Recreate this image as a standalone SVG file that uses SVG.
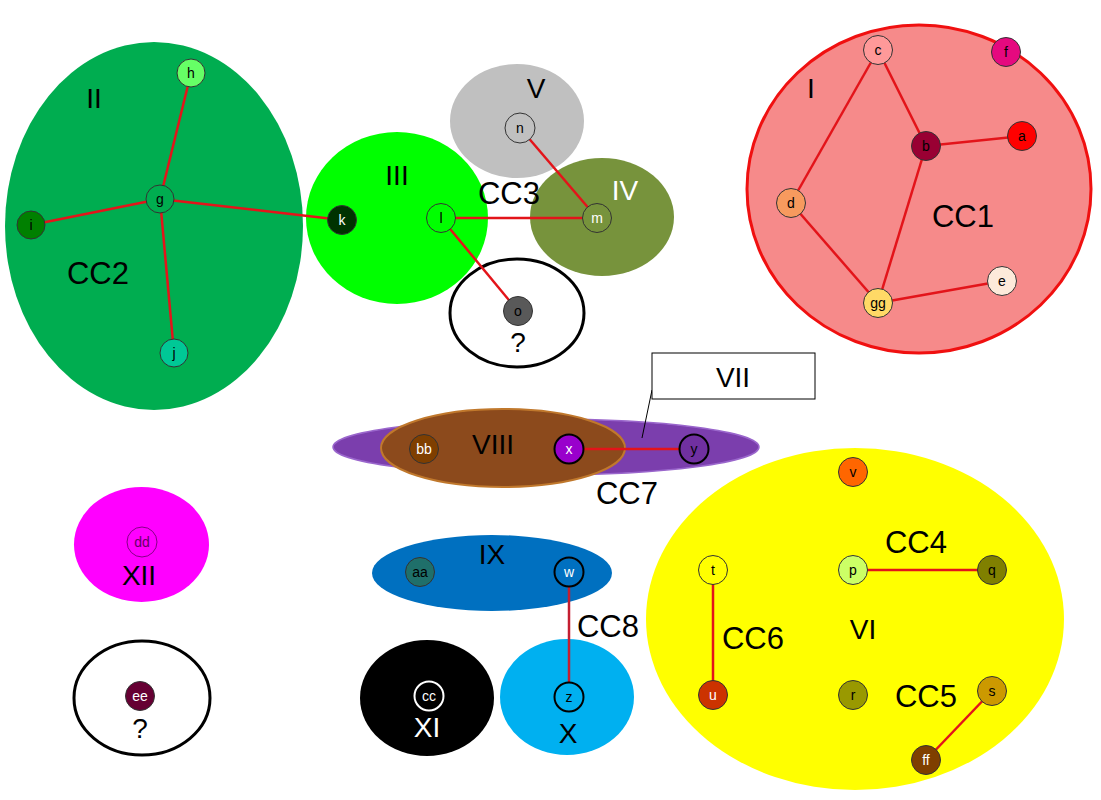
<svg xmlns="http://www.w3.org/2000/svg" width="1101" height="800" viewBox="0 0 1101 800">
<style>
.lbl{font-family:"Liberation Sans",Arial,sans-serif;font-size:28px;text-anchor:middle;fill:#000}
.cc{font-family:"Liberation Sans",Arial,sans-serif;font-size:31px;text-anchor:middle;fill:#000}
.nl{font-family:"Liberation Sans",Arial,sans-serif;font-size:14px;text-anchor:middle;fill:#000}
.w{fill:#fff}
.n{stroke:#333;stroke-width:1}
.nb{stroke:#000;stroke-width:2}
.e{stroke:#E3141A;stroke-width:2.5;fill:none}
</style>
<rect width="1101" height="800" fill="#fff"/>
<g id="groups">
  <ellipse id="grp-II" cx="154" cy="226" rx="149" ry="184" fill="#00AD50"/>
  <ellipse id="grp-III" cx="397" cy="218" rx="91" ry="86" fill="#00FF00"/>
  <ellipse id="grp-IV" cx="602" cy="217" rx="72" ry="59" fill="#77933C"/>
  <ellipse id="grp-V" cx="517" cy="121" rx="67" ry="57" fill="#C0C0C0"/>
  <ellipse id="grp-q1" cx="517" cy="313" rx="67" ry="54" fill="#fff" stroke="#000" stroke-width="3"/>
  <ellipse id="grp-I" cx="919" cy="189" rx="172" ry="164" fill="#F68A8A" stroke="#F01010" stroke-width="3"/>
  <ellipse id="grp-VII" cx="546" cy="447" rx="213" ry="28" fill="#7B3EAD" stroke="#9A66CC" stroke-width="1.5"/>
  <ellipse id="grp-VIII" cx="503" cy="448" rx="122" ry="39" fill="#8C4A1C" stroke="#C0782C" stroke-width="2"/>
  <ellipse id="grp-VI" cx="855" cy="619" rx="209" ry="171" fill="#FFFF00"/>
  <ellipse id="grp-XII" cx="141.5" cy="544.5" rx="67.5" ry="57.5" fill="#FF00FF"/>
  <ellipse id="grp-q2" cx="142" cy="698" rx="68" ry="57" fill="#fff" stroke="#000" stroke-width="3"/>
  <ellipse id="grp-IX" cx="492" cy="573" rx="120" ry="38" fill="#0070C0"/>
  <ellipse id="grp-XI" cx="427" cy="698" rx="67" ry="58" fill="#000"/>
  <ellipse id="grp-X" cx="567" cy="697" rx="67" ry="58" fill="#00B0F0"/>
</g>
<g id="group-labels">
  <text class="lbl" x="94" y="108">II</text>
  <text class="cc" x="98" y="284">CC2</text>
  <text class="lbl" x="397" y="185">III</text>
  <text class="lbl" x="536" y="98">V</text>
  <text class="cc" x="509" y="204">CC3</text>
  <text class="lbl w" x="625" y="200">IV</text>
  <text class="lbl" x="518" y="352">?</text>
  <text class="lbl" x="811" y="98">I</text>
  <text class="cc" x="963" y="227">CC1</text>
  <text class="lbl" x="493" y="454">VIII</text>
  <text class="cc" x="627" y="504">CC7</text>
  <text class="lbl" x="139" y="585">XII</text>
  <text class="lbl" x="140" y="738">?</text>
  <text class="lbl" x="492" y="564">IX</text>
  <text class="lbl w" x="427" y="737">XI</text>
  <text class="lbl" x="568" y="743">X</text>
  <text class="cc" x="608" y="637">CC8</text>
  <text class="cc" x="916" y="553">CC4</text>
  <text class="lbl" x="863" y="639">VI</text>
  <text class="cc" x="753" y="649">CC6</text>
  <text class="cc" x="926" y="707">CC5</text>
</g>
<g id="callout-VII">
  <line x1="652" y1="390" x2="642" y2="438" stroke="#000" stroke-width="1"/>
  <rect x="652" y="353" width="163" height="46" fill="#fff" stroke="#000" stroke-width="1"/>
  <text class="lbl" x="733" y="387">VII</text>
</g>
<g id="connectors">
  <line class="e" x1="191" y1="73" x2="160" y2="199"/>
  <line class="e" x1="31" y1="225" x2="160" y2="199"/>
  <line class="e" x1="174" y1="353" x2="160" y2="199"/>
  <line class="e" x1="160" y1="199" x2="342" y2="220"/>
  <line class="e" x1="520" y1="128" x2="597" y2="218"/>
  <line class="e" x1="441" y1="218" x2="597" y2="218"/>
  <line class="e" x1="441" y1="218" x2="518" y2="311"/>
  <line class="e" x1="878" y1="50" x2="926" y2="146"/>
  <line class="e" x1="878" y1="50" x2="791" y2="203"/>
  <line class="e" x1="926" y1="146" x2="1022" y2="136"/>
  <line class="e" x1="926" y1="146" x2="878" y2="303"/>
  <line class="e" x1="791" y1="203" x2="878" y2="303"/>
  <line class="e" x1="878" y1="303" x2="1002" y2="281"/>
  <line class="e" x1="569" y1="449" x2="694" y2="449"/>
  <line class="e" x1="853" y1="570" x2="992" y2="570"/>
  <line class="e" x1="713" y1="570" x2="713" y2="695"/>
  <line class="e" x1="992" y1="691" x2="926" y2="760"/>
  <line class="e" x1="569" y1="572" x2="569" y2="697" style="stroke:#C41E30"/>
</g>
<g id="node-h"><circle class="n" cx="191" cy="73" r="14" fill="#66FF66"/><text class="nl" x="191" y="78">h</text></g>
<g id="node-g"><circle class="n" cx="160" cy="199" r="14" fill="#00AD50"/><text class="nl" x="160" y="204">g</text></g>
<g id="node-i"><circle class="n" cx="31" cy="225" r="14" fill="#008000"/><text class="nl" x="31" y="230">i</text></g>
<g id="node-j"><circle class="n" cx="174" cy="353" r="14" fill="#00C896"/><text class="nl" x="174" y="358">j</text></g>
<g id="node-k"><circle class="n" cx="342" cy="220" r="14.5" fill="#003300"/><text class="nl w" x="342" y="225">k</text></g>
<g id="node-l"><circle class="n" cx="441" cy="218" r="14.5" fill="#00FF00"/><text class="nl" x="441" y="223">l</text></g>
<g id="node-n"><circle class="n" cx="520" cy="128" r="15" fill="#C0C0C0"/><text class="nl" x="520" y="133">n</text></g>
<g id="node-m"><circle class="n" cx="597" cy="218" r="14.5" fill="#77933C"/><text class="nl w" x="597" y="223">m</text></g>
<g id="node-o"><circle class="n" cx="518" cy="311" r="14.5" fill="#595959"/><text class="nl" x="518" y="316">o</text></g>
<g id="node-c"><circle class="n" cx="878" cy="50" r="14.5" fill="#FF9999"/><text class="nl" x="878" y="55">c</text></g>
<g id="node-f"><circle class="n" cx="1006" cy="52" r="14.5" fill="#E5097F"/><text class="nl" x="1006" y="57">f</text></g>
<g id="node-b"><circle class="n" cx="926" cy="146" r="14.5" fill="#990033"/><text class="nl" x="926" y="151">b</text></g>
<g id="node-a"><circle class="n" cx="1022" cy="136" r="14.5" fill="#FF0000"/><text class="nl" x="1022" y="141">a</text></g>
<g id="node-d"><circle class="n" cx="791" cy="203" r="14.5" fill="#F79A5E"/><text class="nl" x="791" y="208">d</text></g>
<g id="node-e"><circle class="n" cx="1002" cy="281" r="14.5" fill="#FDEADA"/><text class="nl" x="1002" y="286">e</text></g>
<g id="node-gg"><circle class="n" cx="878" cy="303" r="14.5" fill="#FFD966"/><text class="nl" x="878" y="308">gg</text></g>
<g id="node-bb"><circle class="n" cx="424" cy="449" r="14.5" fill="#7F3F00"/><text class="nl w" x="424" y="454">bb</text></g>
<g id="node-x"><circle class="nb" cx="569" cy="449" r="14.5" fill="#9900CC"/><text class="nl w" x="569" y="454">x</text></g>
<g id="node-y"><circle class="nb" cx="694" cy="449" r="14.5" fill="#7030A0"/><text class="nl" x="694" y="454">y</text></g>
<g id="node-v"><circle class="n" cx="853" cy="472" r="14.5" fill="#FF6600"/><text class="nl" x="853" y="477">v</text></g>
<g id="node-t"><circle class="n" cx="713" cy="570" r="14.5" fill="#FFFF00"/><text class="nl" x="713" y="575">t</text></g>
<g id="node-p"><circle class="n" cx="853" cy="570" r="14.5" fill="#CCFF66"/><text class="nl" x="853" y="575">p</text></g>
<g id="node-q"><circle class="n" cx="992" cy="570" r="14.5" fill="#808000"/><text class="nl" x="992" y="575">q</text></g>
<g id="node-u"><circle class="n" cx="713" cy="695" r="14.5" fill="#CC3300"/><text class="nl w" x="713" y="700">u</text></g>
<g id="node-r"><circle class="n" cx="853" cy="695" r="14.5" fill="#999900"/><text class="nl" x="853" y="700">r</text></g>
<g id="node-s"><circle class="n" cx="992" cy="691" r="14.5" fill="#CC9900"/><text class="nl" x="992" y="696">s</text></g>
<g id="node-ff"><circle class="n" cx="926" cy="760" r="14.5" fill="#7F3F00"/><text class="nl w" x="926" y="765">ff</text></g>
<g id="node-dd"><circle cx="142" cy="542" r="15" fill="#FF00FF" stroke="#660066" stroke-width="0.8"/><text class="nl" x="142" y="547" style="fill:#660066">dd</text></g>
<g id="node-ee"><circle class="n" cx="140" cy="696" r="14.5" fill="#660033"/><text class="nl w" x="140" y="701">ee</text></g>
<g id="node-aa"><circle class="n" cx="420" cy="572" r="14.5" fill="#1F6F6A"/><text class="nl" x="420" y="577">aa</text></g>
<g id="node-w"><circle class="nb" cx="569" cy="572" r="14.5" fill="#0070C0"/><text class="nl w" x="569" y="577">w</text></g>
<g id="node-cc"><circle cx="429" cy="696" r="14.5" fill="#000" stroke="#fff" stroke-width="2"/><text class="nl w" x="429" y="701">cc</text></g>
<g id="node-z"><circle class="nb" cx="569" cy="697" r="14.5" fill="#00B0F0"/><text class="nl" x="569" y="702">z</text></g>
</svg>
